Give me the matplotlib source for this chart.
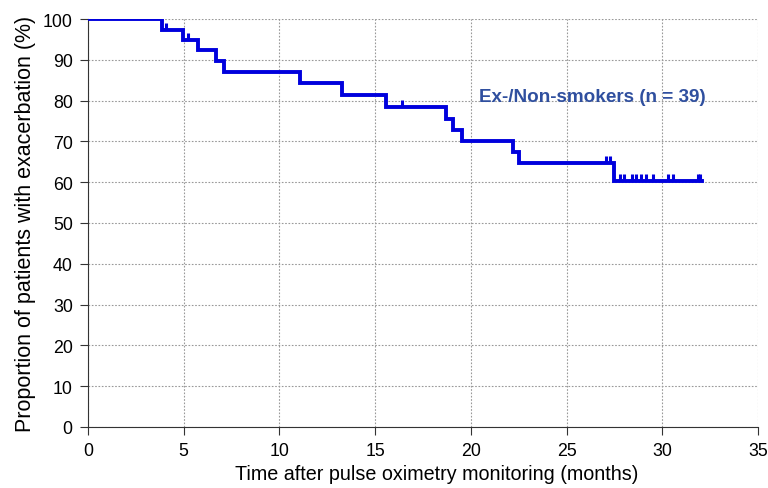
import matplotlib.pyplot as plt
import numpy as np

plt.rcParams['font.family'] = ['Liberation Sans', 'DejaVu Sans']

# 事件时间与生存比例 (Kaplan-Meier)
event_times = [0, 3.87, 4.96, 5.75, 6.69, 7.11, 11.08, 13.27, 15.57, 18.7, 19.07, 19.54,
               22.18, 22.52, 27.48]
survival = [100, 97.4, 94.9, 92.3, 89.7, 87.0, 84.2, 81.3, 78.4, 75.6, 72.8, 70.0, 67.4, 64.7, 60.4]
end_time = 32.05

# 删失时间
censor_times = [4.08, 5.22, 16.41, 27.06, 27.27, 27.8, 28.0, 28.42, 28.63, 28.89, 29.15, 29.52,
                30.3, 30.56, 31.85, 31.97]

fig = plt.figure(figsize=(7.68, 4.89), dpi=100)
ax = fig.add_axes([0.1146, 0.125, 0.8724, 0.834])

x = np.array(event_times + [end_time])
y = np.array(survival + [survival[-1]])
ax.step(x, y, where='post', color='#0000dd', lw=2.8, solid_joinstyle='miter', zorder=3)

# 删失标记
cy = [y[np.searchsorted(x, t, side='right') - 1] for t in censor_times]
ax.plot(censor_times, cy, ls='none', marker=2, ms=5, mew=2.2, color='#0000dd', zorder=3)

ax.text(26.36, 81.1, 'Ex-/Non-smokers (n = 39)', color='#2f4f9f', fontsize=13.6,
        fontweight='bold', ha='center', va='center')

ax.set_xlim(0, 35)
ax.set_ylim(0, 100)
ax.set_xticks(np.arange(0, 36, 5))
ax.set_yticks(np.arange(0, 101, 10))
ax.grid(True, ls=(0, (1.5, 1.5)), color='#999999', lw=0.8)
ax.spines['right'].set_color('none')
ax.spines['top'].set_color('none')
ax.spines['left'].set_color('#333333')
ax.spines['bottom'].set_color('#333333')
ax.tick_params(labelsize=12.8, length=6, color='#333333', pad=5)
ax.set_xlabel('Time after pulse oximetry monitoring (months)', fontsize=14.2, labelpad=3)
ax.xaxis.set_label_coords(0.521, -0.09)
ax.set_ylabel('Proportion of patients with exacerbation (%)', fontsize=15.5, labelpad=5)

fig.savefig('out.png', dpi=100)
